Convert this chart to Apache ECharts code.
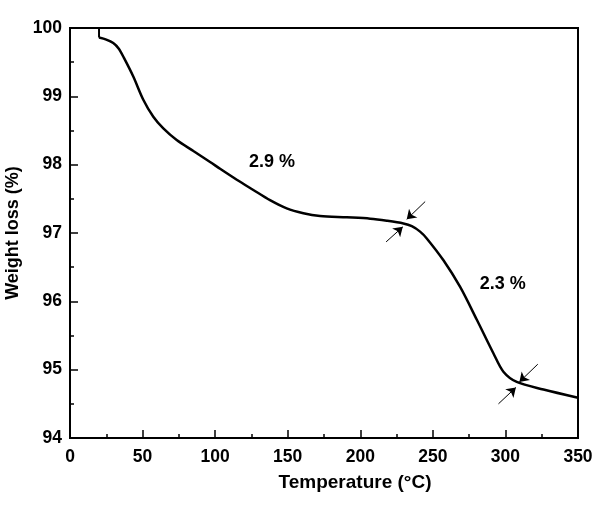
<!DOCTYPE html>
<html><head><meta charset="utf-8">
<script src="https://cdn.jsdelivr.net/npm/echarts@6/dist/echarts.min.js"></script>
<style>html,body{margin:0;padding:0;background:#fff}#c{width:600px;height:510px}</style>
</head><body><div id="c"></div>
<script>
const temps = [20, 25, 29.8, 33.5, 37, 43.6, 50.5, 57.4, 64.3, 73.5, 85.0, 96.5, 103.4, 114.9, 126.3, 137.8, 149.3, 160.8, 172.3, 190.7, 206.8, 218.3, 229.7, 235.5, 241.2, 245.8, 257.3, 268.8, 280.3, 291.7, 298.6, 307.8, 326.2, 350];
const weights = [99.86, 99.83, 99.78, 99.70, 99.57, 99.29, 98.95, 98.70, 98.53, 98.36, 98.20, 98.04, 97.94, 97.78, 97.63, 97.48, 97.36, 97.29, 97.25, 97.23, 97.21, 97.18, 97.14, 97.10, 97.02, 96.92, 96.60, 96.21, 95.73, 95.24, 94.97, 94.82, 94.71, 94.59];
const startDrop = [[20, 100], [20, 99.86]];
const arrows = [
  [[244.7, 97.46], [232.0, 97.20]],
  [[217.8, 96.87], [229.3, 97.09]],
  [[322.3, 95.08], [309.6, 94.82]],
  [[295.2, 94.50], [307.2, 94.74]]
];
const annotations = [
  {value: [139.2, 98.04], text: '2.9 %'},
  {value: [298.1, 96.26], text: '2.3 %'}
];
const xTicks = [0, 50, 100, 150, 200, 250, 300, 350];
const yTicks = [94, 95, 96, 97, 98, 99, 100];

const font = 'Liberation Sans, Arial, sans-serif';
const chart = echarts.init(document.getElementById('c'));
chart.setOption({
  animation: false,
  grid: {left: 70, right: 22, top: 28, bottom: 72, outerBoundsMode: 'none', containLabel: false,
    show: true, borderColor: '#000', borderWidth: 2, backgroundColor: 'transparent'},
  xAxis: {
    type: 'value', min: xTicks[0], max: xTicks[xTicks.length-1], interval: 50,
    name: 'Temperature (\u00b0C)', nameLocation: 'middle', nameGap: 35,
    nameTextStyle: {fontFamily: font, fontWeight: 'bold', fontSize: 19, color: '#000', padding: [0, 0, 0, 62]},
    axisLine: {lineStyle: {color: '#000', width: 2}},
    axisTick: {inside: true, length: 8, lineStyle: {color: '#000', width: 1.5}},
    minorTick: {show: true, splitNumber: 2, length: 4, lineStyle: {color: '#000', width: 1.5}},
    axisLabel: {fontFamily: font, fontWeight: 'bold', fontSize: 17.5, color: '#000', margin: 10},
    splitLine: {show: false}
  },
  yAxis: {
    type: 'value', min: yTicks[0], max: yTicks[yTicks.length-1], interval: 1,
    name: 'Weight loss (%)', nameLocation: 'middle', nameGap: 31,
    nameTextStyle: {fontFamily: font, fontWeight: 'bold', fontSize: 18, color: '#000'},
    axisLine: {lineStyle: {color: '#000', width: 2}},
    axisTick: {inside: true, length: 8, lineStyle: {color: '#000', width: 1.5}},
    minorTick: {show: true, splitNumber: 2, length: 4, lineStyle: {color: '#000', width: 1.5}},
    axisLabel: {fontFamily: font, fontWeight: 'bold', fontSize: 17.5, color: '#000', margin: 8},
    splitLine: {show: false}
  },
  series: [
    {type: 'line', data: startDrop, symbol: 'none', lineStyle: {color: '#000', width: 2}},
    {type: 'line', data: temps.map((t, i) => [t, weights[i]]), symbol: 'none', smooth: 0.3,
      lineStyle: {color: '#000', width: 2.5}},
    {type: 'lines', coordinateSystem: 'cartesian2d', symbol: ['none', 'arrow'], symbolSize: 9,
      lineStyle: {color: '#000', width: 1, opacity: 1},
      data: arrows.map(a => ({coords: a}))},
    {type: 'scatter', symbolSize: 0, itemStyle: {color: '#000', opacity: 1},
      data: annotations.map(a => ({value: a.value, name: a.text})),
      label: {show: true, position: [0, 0], align: 'center', verticalAlign: 'middle', formatter: p => p.name,
        fontFamily: font, fontWeight: 'bold', fontSize: 18, color: '#000'}}
  ]
});
</script></body></html>
